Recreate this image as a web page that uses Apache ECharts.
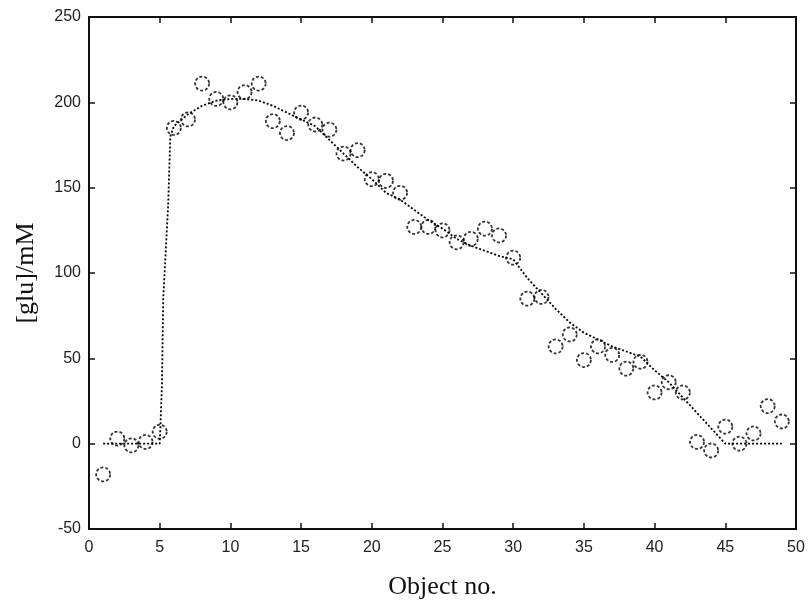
<!DOCTYPE html>
<html>
<head>
<meta charset="utf-8">
<script src="https://cdn.jsdelivr.net/npm/echarts@6/dist/echarts.min.js"></script>
<style>
  html, body { margin: 0; padding: 0; background: #fff; }
  #chart { width: 808px; height: 605px; }
</style>
</head>
<body>
<div id="chart"></div>
<script>
// Measured glutamate concentration for each object
const objectNo = [1,2,3,4,5,6,7,8,9,10,11,12,13,14,15,16,17,18,19,20,21,22,23,24,25,
                  26,27,28,29,30,31,32,33,34,35,36,37,38,39,40,41,42,43,44,45,46,47,48,49];
const gluMeasured = [-18,3,-1,1,7,185,190,211,202,200,206,211,189,182,194,187,184,170,172,155,
                     154,147,127,127,125,118,120,126,122,109,85,86,57,64,49,57,52,44,48,30,
                     36,30,1,-4,10,0,6,22,13];

// Fitted profile
const fitX = [1,5,5.05,5.16,5.25,5.6,5.75,6,7,8,9,10,11,12,13,14,15,16,17,18,19,20,21,22,23,24,
              25,26,27,28,29,30,31,32,33,34,35,36,37,38,39,40,41,42,43,44,45,49];
const fitY = [0,0,10,35,85,140,180,186,193,198,201,202,202,201,198,194,190,186,178,170,162,155,
              147,143,137,131,126,120,116,113,110,108,97,88,79,71,65,61,57,54,51,43,36,27,18,9,0,0];

// Axis ticks
const xTicks = { min: 0, max: 50, step: 5 };
const yTicks = { min: -50, max: 250, step: 50 };

const chart = echarts.init(document.getElementById('chart'), null, { renderer: 'canvas' });

const axisLine = { show: true, onZero: false, lineStyle: { color: '#111', width: 2 } };
const tickLabelFont = { fontFamily: 'Liberation Sans, Arial, sans-serif', fontSize: 16, color: '#222' };
const nameFont = { fontFamily: 'Liberation Serif, Times New Roman, serif', fontSize: 26, color: '#111' };

function xAxisDef(pos, showLabel) {
  return {
    type: 'value', position: pos, min: xTicks.min, max: xTicks.max, interval: xTicks.step,
    axisLine: axisLine,
    axisTick: { show: true, inside: true, length: 6, lineStyle: { color: '#111', width: 1.5 } },
    axisLabel: Object.assign({ show: showLabel, margin: 11 }, tickLabelFont),
    splitLine: { show: false },
    name: showLabel ? 'Object no.' : '', nameLocation: 'middle', nameGap: 45,
    nameTextStyle: nameFont
  };
}
function yAxisDef(pos, showLabel) {
  return {
    type: 'value', position: pos, min: yTicks.min, max: yTicks.max, interval: yTicks.step,
    axisLine: axisLine,
    axisTick: { show: true, inside: true, length: 6, lineStyle: { color: '#111', width: 1.5 } },
    axisLabel: Object.assign({ show: showLabel, margin: 8 }, tickLabelFont),
    splitLine: { show: false },
    name: showLabel ? '[glu]/mM' : '', nameLocation: 'middle', nameGap: 50,
    nameTextStyle: nameFont
  };
}

chart.setOption({
  animation: false,
  backgroundColor: '#fff',
  grid: { left: 89, right: 12, top: 17, bottom: 75 },
  xAxis: [xAxisDef('bottom', true), xAxisDef('top', false)],
  yAxis: [yAxisDef('left', true), yAxisDef('right', false)],
  series: [
    {
      type: 'line',
      data: fitX.map((x, i) => [x, fitY[i]]),
      showSymbol: false,
      smooth: false,
      lineStyle: { color: '#000', width: 1.8, type: [2, 2] },
      z: 2
    },
    {
      type: 'scatter',
      data: objectNo.map((x, i) => [x, gluMeasured[i]]),
      symbol: 'circle',
      symbolSize: 14,
      itemStyle: { color: 'rgba(0,0,0,0)', borderColor: '#000', borderWidth: 1.8, borderType: [3, 2] },
      z: 3
    }
  ]
});
</script>
</body>
</html>
